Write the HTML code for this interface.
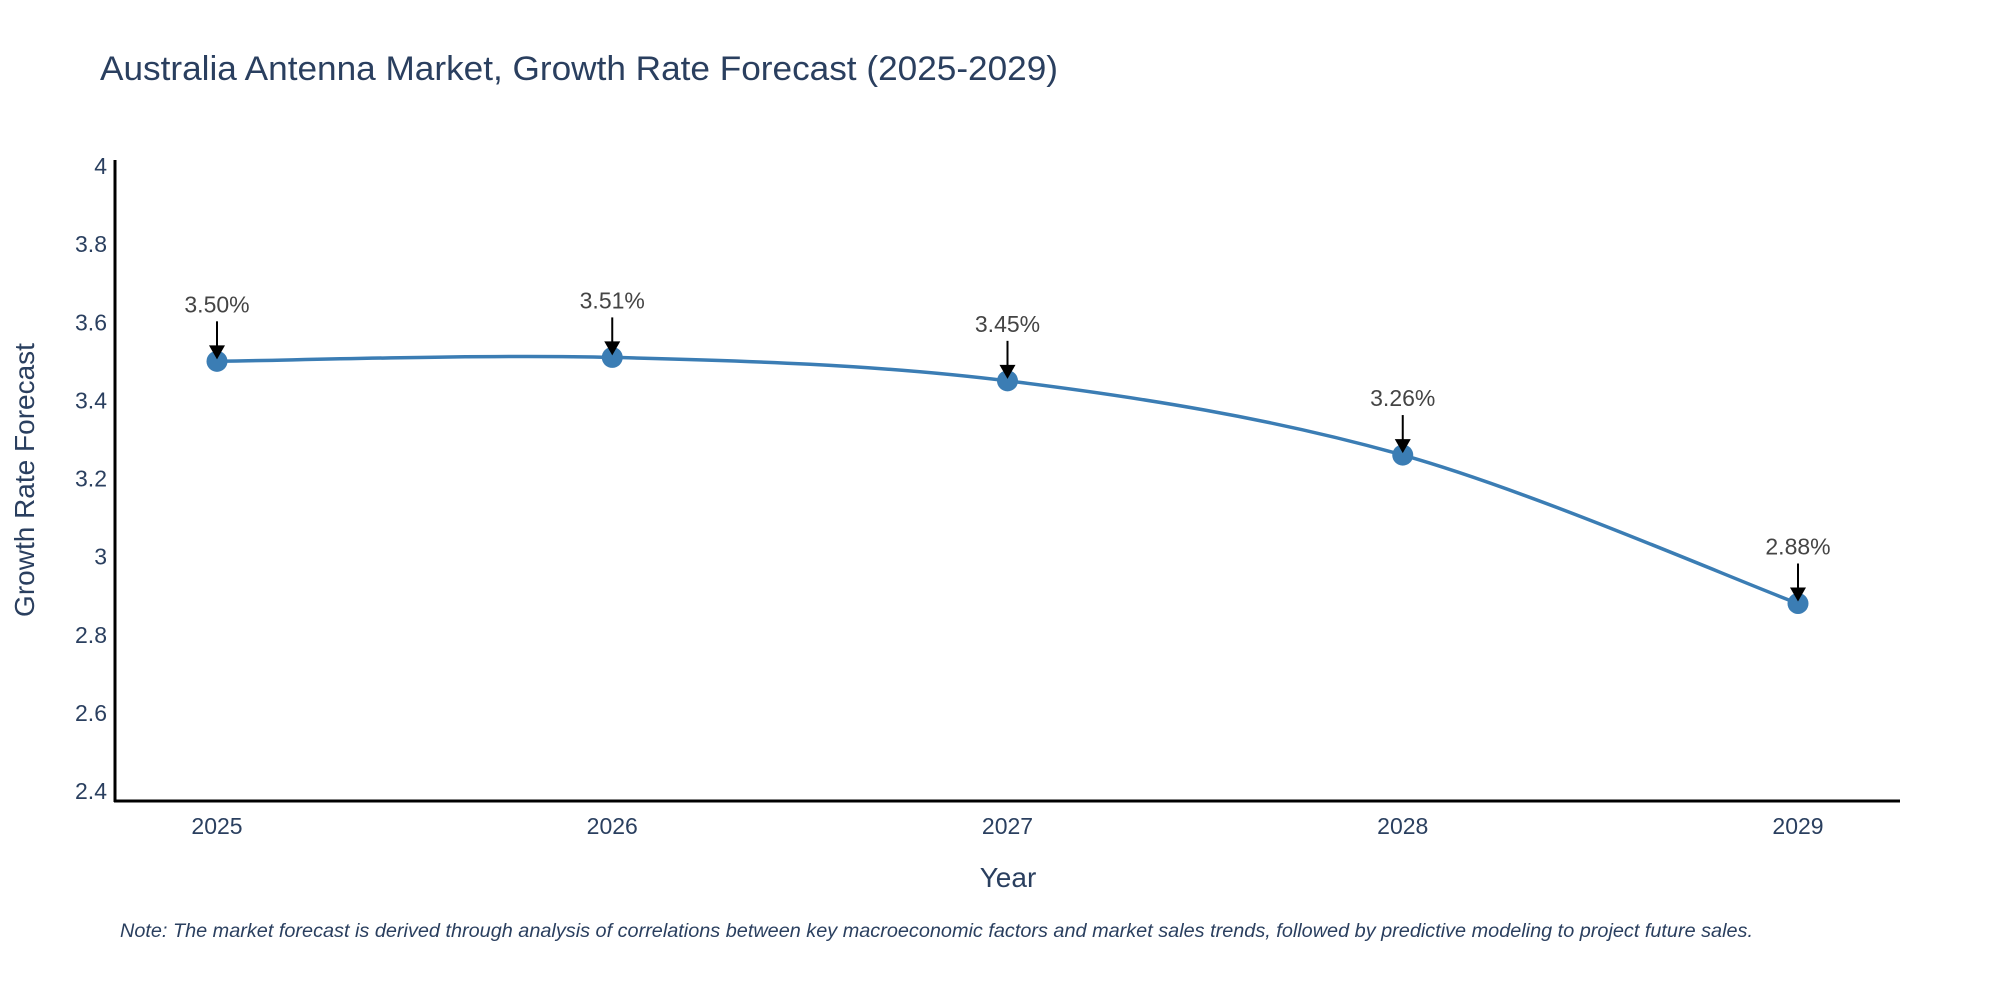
<!DOCTYPE html>
<html><head><meta charset="utf-8"><style>
body{margin:0;background:#fff;}
svg{display:block;font-family:"Liberation Sans",sans-serif;}
</style></head><body>
<svg id="chart" width="2000" height="1000">
<text x="100" y="80" font-size="34" fill="#2a3f5f" textLength="958" lengthAdjust="spacingAndGlyphs">Australia Antenna Market, Growth Rate Forecast (2025-2029)</text>
<g id="yticks"></g>
<g id="xticks"></g>
<line x1="115" y1="160" x2="115" y2="802" stroke="#000" stroke-width="3"/>
<line x1="114" y1="801" x2="1900" y2="801" stroke="#000" stroke-width="3"/>
<text transform="translate(34,480) rotate(-90)" text-anchor="middle" font-size="28" fill="#2a3f5f">Growth Rate Forecast</text>
<text x="1008" y="887" text-anchor="middle" font-size="28" fill="#2a3f5f">Year</text>
<text x="120" y="937" font-size="19" font-style="italic" fill="#2a3f5f" textLength="1633" lengthAdjust="spacingAndGlyphs">Note: The market forecast is derived through analysis of correlations between key macroeconomic factors and market sales trends, followed by predictive modeling to project future sales.</text>
<g id="series"></g>
</svg>
<script>
const years = [2025, 2026, 2027, 2028, 2029];
const growth = [3.50, 3.51, 3.45, 3.26, 2.88];
const labels = ["3.50%", "3.51%", "3.45%", "3.26%", "2.88%"];
const yTicks = [2.4, 2.6, 2.8, 3, 3.2, 3.4, 3.6, 3.8, 4];

const NS = "http://www.w3.org/2000/svg";
const x = v => 217 + (v - 2025) * (1798 - 217) / 4;
const y = v => 166 + (4 - v) * (791 - 166) / 1.6;
function mk(tag, attrs, parent) {
  const e = document.createElementNS(NS, tag);
  for (const k in attrs) e.setAttribute(k, attrs[k]);
  parent.appendChild(e); return e;
}
const yt = document.getElementById('yticks');
yTicks.forEach(t => {
  const e = mk('text', {x: 107, y: y(t) + 8, 'text-anchor': 'end', 'font-size': 23, fill: '#2a3f5f'}, yt);
  
  
  e.textContent = String(t);
});
const xt = document.getElementById('xticks');
years.forEach(t => {
  const e = mk('text', {x: x(t), y: 834, 'text-anchor': 'middle', 'font-size': 23, fill: '#2a3f5f'}, xt);
  
  
  e.textContent = String(t);
});
const g = document.getElementById('series');
const pts = years.map((yr, i) => [x(yr), y(growth[i])]);
let d = `M${pts[0][0]},${pts[0][1]}`;
const s = 1/6;
for (let i = 0; i < pts.length - 1; i++) {
  const p0 = pts[Math.max(i - 1, 0)], p1 = pts[i], p2 = pts[i + 1], p3 = pts[Math.min(i + 2, pts.length - 1)];
  const c1 = [p1[0] + (p2[0] - p0[0]) * s, p1[1] + (p2[1] - p0[1]) * s];
  const c2 = [p2[0] - (p3[0] - p1[0]) * s, p2[1] - (p3[1] - p1[1]) * s];
  d += ` C${c1[0]},${c1[1]} ${c2[0]},${c2[1]} ${p2[0]},${p2[1]}`;
}
const line = mk('path', {d: d, fill: 'none', stroke: '#3b7db4', 'stroke-width': 3.5}, g);


pts.forEach((p, i) => {
  const c = mk('circle', {cx: p[0], cy: p[1], r: 10.5, fill: '#3b7db4'}, g);
  
  
  const a = mk('line', {x1: p[0], y1: p[1] - 40, x2: p[0], y2: p[1] - 14, stroke: '#000', 'stroke-width': 2}, g);
  
  
  const h = mk('polygon', {points: `${p[0]-8},${p[1]-16} ${p[0]+8},${p[1]-16} ${p[0]},${p[1]-2}`, fill: '#000'}, g);
  
  
  const t = mk('text', {x: p[0], y: p[1] - 49, 'text-anchor': 'middle', 'font-size': 23, fill: '#444'}, g);
  
  
  t.textContent = labels[i];
});
</script>
</body></html>
